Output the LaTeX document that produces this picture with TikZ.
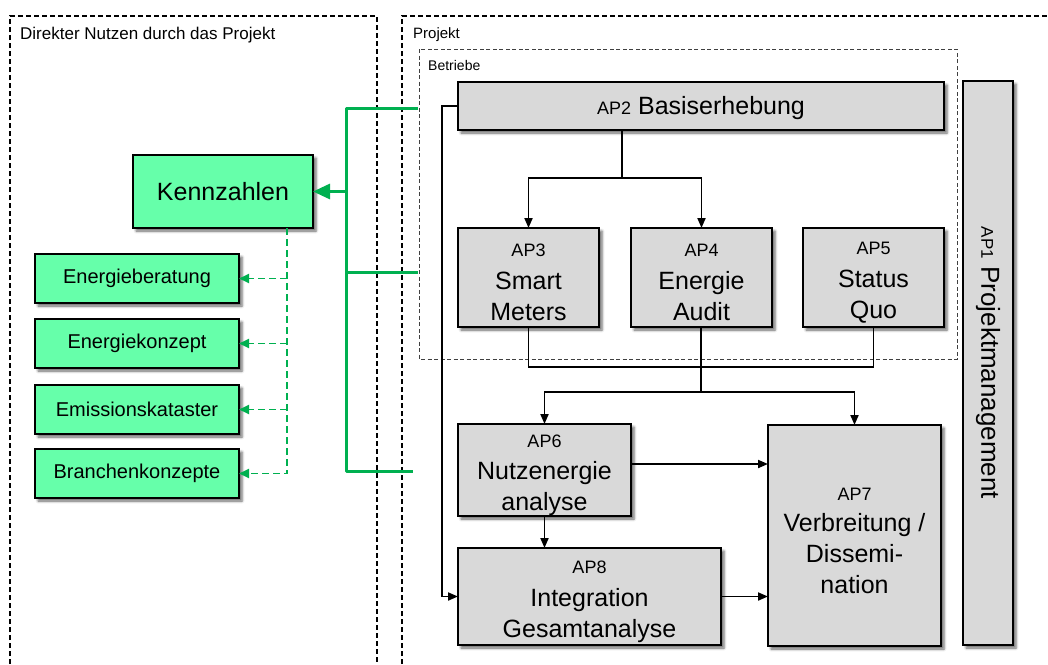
\documentclass[tikz,border=0pt]{standalone}
\usepackage{fontspec}
\setmainfont{Liberation Sans}
\usetikzlibrary{arrows.meta,shadows.blur,calc}
\definecolor{apgray}{HTML}{D9D9D9}
\definecolor{kgreen}{RGB}{102,255,170}
\definecolor{lgreen}{HTML}{00B050}
\newcommand{\apl}[1]{{\fontsize{18}{18}\selectfont\rule{0pt}{23pt}#1}}
\tikzset{
  mybox/.style={draw=black, line width=2.1pt, anchor=north west, inner sep=0pt, outer sep=0pt,
    align=center, blur shadow={shadow xshift=3pt, shadow yshift=-3pt, shadow blur radius=2.5pt, shadow opacity=60}},
  apbox/.style={mybox, fill=apgray, font=\fontsize{25}{31}\selectfont},
  gbox/.style={mybox, fill=kgreen, font=\fontsize{20}{24}\selectfont},
  lbl/.style={anchor=base west, inner sep=0pt, font=\fontsize{15}{18}\selectfont},
  conn/.style={line width=1.9pt, -{Triangle[length=10pt,width=8pt]}},
  plain/.style={line width=1.9pt},
  gline/.style={draw=lgreen, line width=3pt, line join=round},
  garrow/.style={gline, -{Triangle[length=17pt,width=15pt]}},
  gdash/.style={draw=lgreen, line width=1.8pt, dash pattern=on 7pt off 4pt, -{Triangle[length=10pt,width=9pt]}},
  outerframe/.style={line width=1.5pt, dash pattern=on 5pt off 3pt},
  innerframe/.style={draw=black!75, line width=0.9pt, dash pattern=on 4pt off 2.5pt},
}
\begin{document}
\begin{tikzpicture}[x=1pt,y=-1pt]
\useasboundingbox (0,0) rectangle (1048,664);
% frames
\draw[outerframe] (10,664) -- (10,16) -- (377,16) -- (377,664);
\draw[outerframe] (402,664) -- (402,16) -- (1048,16);
\draw[innerframe] (419,49) rectangle (957,359);
\node[lbl, font=\fontsize{17}{20}\selectfont] (tleft) at (20,39) {Direkter Nutzen durch das Projekt};
\node[lbl] (tproj) at (413,38) {Projekt};
\node[lbl, font=\fontsize{14}{16}\selectfont] (tbetr) at (428,70) {Betriebe};

% work packages
\node[apbox, minimum width=486pt, minimum height=48pt] (ap2) at (458,82) {\apl{AP2} Basiserhebung};
\node[apbox, minimum width=141pt, minimum height=99pt] (ap3) at (458,228) {\apl{AP3}\\[2pt]Smart\\Meters};
\node[apbox, minimum width=141pt, minimum height=99pt] (ap4) at (631,228) {\apl{AP4}\\[2pt]Energie\\Audit};
\node[apbox, minimum width=141pt, minimum height=99pt] (ap5) at (803,228) {\apl{AP5}\\[2pt]Status\\Quo};
\node[apbox, minimum width=173pt, minimum height=92pt] (ap6) at (458,424) {\apl{AP6}\\[1pt]Nutzenergie\\analyse};
\node[apbox, minimum width=263pt, minimum height=97pt] (ap8) at (458,548) {\apl{AP8}\\[2pt]Integration\\Gesamtanalyse};
\node[apbox, minimum width=173pt, minimum height=221pt] (ap7) at (768,425) {\apl{AP7}\\[0pt]Verbreitung /\\Dissemi-\\nation};
\node[apbox, minimum width=50pt, minimum height=564pt] (ap1) at (963,81) {\rotatebox{-90}{\fontsize{26}{30}\selectfont{\fontsize{17}{17}\selectfont AP1} Projektmanagement}};

% green boxes
\node[gbox, font=\fontsize{25}{30}\selectfont, minimum width=180pt, minimum height=73pt] (kenn) at (133,155) {Kennzahlen};
\node[gbox, minimum width=204pt, minimum height=49pt] (eb) at (35,254) {Energieberatung};
\node[gbox, minimum width=204pt, minimum height=49pt] (ek) at (35,319) {Energiekonzept};
\node[gbox, minimum width=204pt, minimum height=49pt] (em) at (35,385) {Emissionskataster};
\node[gbox, minimum width=204pt, minimum height=49pt] (bk) at (35,449) {Branchenkonzepte};

% black connectors
\coordinate (b1) at (622,178);
\draw[plain] (b1 |- ap2.south) -- (b1);
\draw[conn] (b1) -| (ap3.north);
\draw[conn] (b1) -| (ap4.north);
\coordinate (b2) at (701,367);
\draw[plain] (ap3.south) |- (b2) -| (ap5.south);
\coordinate (b3) at (701,392);
\draw[plain] (b3 |- ap4.south) -- (b3);
\draw[conn] (b3) -| (ap6.north);
\draw[conn] (b3) -| (ap7.north);
\coordinate (a67) at (700,464);
\draw[conn] (a67 -| ap6.east) -- (a67 -| ap7.west);
\draw[conn] (ap8.east) -- (ap8.east -| ap7.west);
\draw[conn] (ap6.south) -- (ap6.south |- ap8.north);
\coordinate (l1) at (442,300);
\draw[conn] (ap2.west) -| (l1) |- (ap8.west);

% green connectors
\coordinate (g1) at (346,108);
\coordinate (g2) at (418,108);
\coordinate (g3) at (418,272);
\coordinate (g4) at (413,471);
\draw[gline] (g2) -- (g1) -- (g1 |- g4) -- (g4);
\draw[gline] (g3) -- (g3 -| g1);
\draw[garrow] (g1 |- kenn.east) -- (kenn.east);

% dashed green
\coordinate (d) at (287,300);
\draw[gdash] (d |- kenn.south) |- (bk.east);
\draw[gdash] (d |- eb.east) -- (eb.east);
\draw[gdash] (d |- ek.east) -- (ek.east);
\draw[gdash] (d |- em.east) -- (em.east);
\end{tikzpicture}
\end{document}
